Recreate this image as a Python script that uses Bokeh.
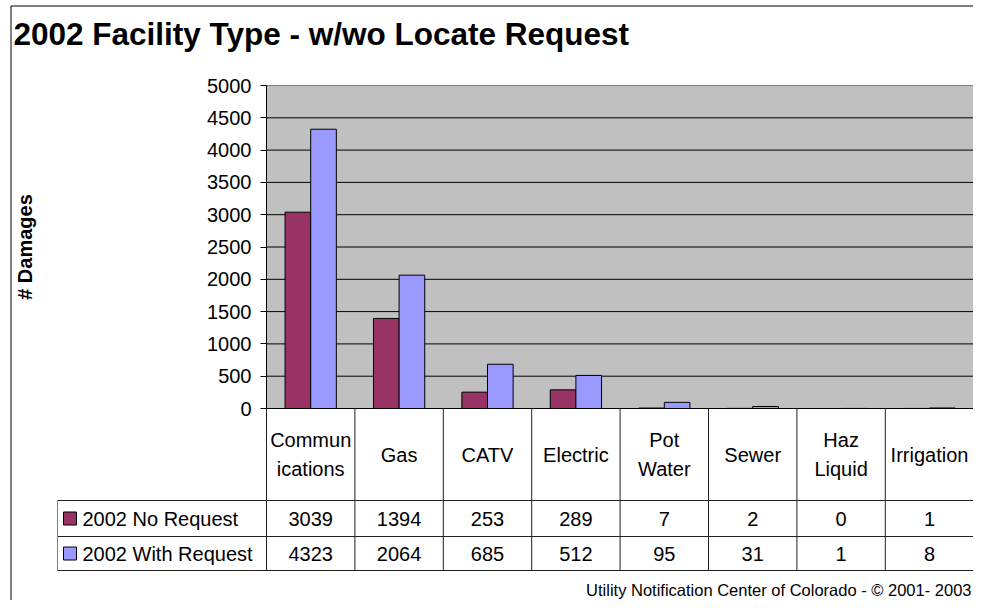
import numpy as np
from bokeh.plotting import figure
from bokeh.models import Range1d, FixedTicker, ColumnDataSource
from bokeh.core.properties import value
from bokeh.embed import file_html
from bokeh.resources import INLINE

# ---------------- data ----------------
categories = ["Communications", "Gas", "CATV", "Electric", "Pot Water", "Sewer", "Haz Liquid", "Irrigation"]
category_labels = ["Commun\nications", "Gas", "CATV", "Electric", "Pot\nWater", "Sewer", "Haz\nLiquid", "Irrigation"]
series_names = ["2002 No Request", "2002 With Request"]
no_request = [3039, 1394, 253, 289, 7, 2, 0, 1]
with_request = [4323, 2064, 685, 512, 95, 31, 1, 8]
y_ticks = [0, 500, 1000, 1500, 2000, 2500, 3000, 3500, 4000, 4500, 5000]
title_text = "2002 Facility Type - w/wo Locate Request"
y_label = "# Damages"
footer_text = "Utility Notification Center of Colorado - \u00a9 2001- 2003"

# ---------------- layout helpers (pixel -> data) ----------------
W, H = 973, 600
X0_PX, PX_PER_CAT = 266, 88.4
Y0_PX, YTOP_PX, Y_MAX = 408, 85, 5000.0


def dx(px):
    return (px - X0_PX) / PX_PER_CAT


def dy(py):
    return (Y0_PX - py) * Y_MAX / (Y0_PX - YTOP_PX)


COL_NO = "#993366"
COL_WITH = "#9999FF"
FONT = "Liberation Sans"

p = figure(width=W, height=H, output_backend="svg", toolbar_location=None,
           x_range=Range1d(dx(0), dx(W)), y_range=Range1d(dy(H), dy(0)),
           x_axis_location=None, min_border=0, background_fill_color="white",
           border_fill_color="white")
p.outline_line_color = None
p.xgrid.visible = False
p.ygrid.visible = False

n = len(categories)
xc = np.arange(n) + 0.5
bar_w = 0.29

# plot area
p.quad(left=[0], right=[n], bottom=[y_ticks[0]], top=[y_ticks[-1]],
       fill_color="#C0C0C0", line_color="#808080", line_width=1)
# gridlines
p.segment(x0=[0] * (len(y_ticks) - 1), x1=[n] * (len(y_ticks) - 1),
          y0=y_ticks[:-1], y1=y_ticks[:-1], line_color="black", line_width=1)

src = ColumnDataSource(dict(x_no=xc - bar_w / 2, x_with=xc + bar_w / 2,
                            no=no_request, wr=with_request))
p.vbar(x="x_no", top="no", bottom=0, width=bar_w, source=src,
       fill_color=COL_NO, line_color="black", line_width=1)
p.vbar(x="x_with", top="wr", bottom=0, width=bar_w, source=src,
       fill_color=COL_WITH, line_color="black", line_width=1)

# y axis at plot-area left edge
ax = p.yaxis[0]
ax.fixed_location = 0
ax.bounds = (y_ticks[0], y_ticks[-1])
ax.ticker = FixedTicker(ticks=y_ticks)
ax.minor_tick_line_color = None
ax.major_tick_out = 6
ax.major_tick_in = 0
ax.major_label_standoff = 9
ax.major_label_text_font = FONT
ax.major_label_text_font_size = "20px"
ax.major_label_text_color = "black"
ax.axis_line_color = "black"
ax.major_tick_line_color = "black"
ax.axis_label = y_label
ax.axis_label_text_font = FONT
ax.axis_label_text_font_style = "bold"
ax.axis_label_text_font_size = "20px"
ax.axis_label_text_color = "black"
ax.axis_label_standoff = 168

# ---------------- data table ----------------
LINE = "#202020"
hdr_bot, row1_bot, row2_bot = dy(500), dy(536), dy(570)
leg_left = dx(57)
# horizontal lines
p.segment(x0=[leg_left] * 3, x1=[n] * 3, y0=[hdr_bot, row1_bot, row2_bot],
          y1=[hdr_bot, row1_bot, row2_bot], line_color=LINE, line_width=1)
# vertical column lines
p.segment(x0=list(range(n + 1)), x1=list(range(n + 1)),
          y0=[0] * (n + 1), y1=[row2_bot] * (n + 1), line_color=LINE, line_width=1)
p.segment(x0=[leg_left], x1=[leg_left], y0=[hdr_bot], y1=[row2_bot],
          line_color="#808080", line_width=1)

# header labels
p.text(x=xc, y=[dy(454)] * n, text=category_labels, text_font=value(FONT),
       text_font_size="20px", text_align="center", text_baseline="middle",
       text_line_height=1.3, text_color="black")
# values
row_y = [dy(518), dy(553)]
for vals, yy in zip([no_request, with_request], row_y):
    p.text(x=xc, y=[yy] * n, text=[str(v) for v in vals], text_font=value(FONT),
           text_font_size="20px", text_align="center", text_baseline="middle",
           text_color="black")
# legend keys
p.scatter(x=[dx(69.5)] * 2, y=row_y, marker="square", size=13,
          fill_color=[COL_NO, COL_WITH], line_color="black", line_width=1)
p.text(x=[dx(82)] * 2, y=row_y, text=series_names, text_font=value(FONT),
       text_font_size="20px", text_align="left", text_baseline="middle",
       text_color="black")

# title
p.text(x=[dx(13)], y=[dy(33)], text=[title_text], text_font=value(FONT),
       text_font_style="bold", text_font_size="31.5px", text_align="left",
       text_baseline="middle", text_color="black")
# footer
p.text(x=[dx(971)], y=[dy(589)], text=[footer_text],
       text_font=value(FONT),
       text_font_size="16.5px", text_align="right", text_baseline="middle",
       text_color="black")

# chart border (left & top)
p.segment(x0=[dx(10.5), dx(10.5)], x1=[dx(10.5), dx(W)], y0=[dy(5.5), dy(5.5)],
          y1=[dy(H), dy(5.5)], line_color="black", line_width=1)

open("out.html", "w").write(file_html(p, INLINE))
